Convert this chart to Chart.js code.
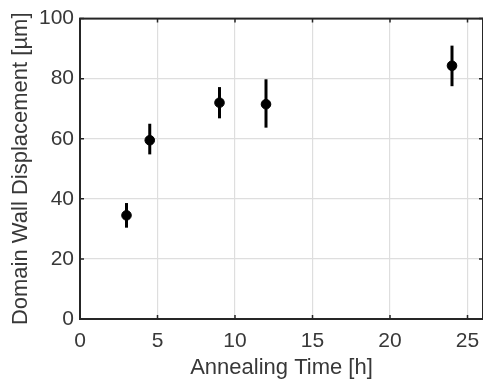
<!DOCTYPE html>
<html>
<head>
<meta charset="utf-8">
<script src="https://cdn.jsdelivr.net/npm/chart.js@4.4.0/dist/chart.umd.min.js"></script>
<style>
  html, body { margin: 0; padding: 0; background: #fff; }
  #wrap { width: 483px; height: 386px; }
</style>
</head>
<body>
<div id="wrap"><canvas id="chart" width="483" height="386"></canvas></div>
<script>
// Annealing time (h) and measured displacement (µm)
const annealHours = [3, 4.5, 9, 12, 24];
const displacement = [34.5, 59.5, 72, 71.5, 84.3];
const errLow = [30.4, 54.8, 66.8, 63.7, 77.5];
const errHigh = [38.6, 65, 77.2, 79.8, 91];
const xTicks = [0, 5, 10, 15, 20, 25];
const yTicks = [0, 20, 40, 60, 80, 100];

const axisColor = '#262626';
const textColor = '#383838';
const fontFamily = '"Liberation Sans", Arial, sans-serif';

// error bars, box, inward ticks and the x tick labels
const matlabLook = {
    id: 'matlabLook',
    afterDatasetsDraw(chart) {
        const ctx = chart.ctx;
        const xs = chart.scales.x;
        const ys = chart.scales.y;
        const area = chart.chartArea;

        ctx.save();
        ctx.strokeStyle = '#000';
        ctx.lineWidth = 3;
        ctx.lineCap = 'butt';
        for (let i = 0; i < annealHours.length; i++) {
            const px = xs.getPixelForValue(annealHours[i]);
            ctx.beginPath();
            ctx.moveTo(px, ys.getPixelForValue(errLow[i]));
            ctx.lineTo(px, ys.getPixelForValue(errHigh[i]));
            ctx.stroke();
        }

        // box
        ctx.strokeStyle = axisColor;
        ctx.lineWidth = 2;
        ctx.strokeRect(area.left, area.top, area.right - area.left, area.bottom - area.top);

        // inward ticks
        ctx.lineWidth = 1.5;
        xTicks.forEach(function(v) {
            const px = xs.getPixelForValue(v);
            ctx.beginPath();
            ctx.moveTo(px, area.bottom);
            ctx.lineTo(px, area.bottom - 4);
            ctx.moveTo(px, area.top);
            ctx.lineTo(px, area.top + 4);
            ctx.stroke();
        });
        yTicks.forEach(function(v) {
            const py = ys.getPixelForValue(v);
            ctx.beginPath();
            ctx.moveTo(area.left, py);
            ctx.lineTo(area.left + 4, py);
            ctx.moveTo(area.right, py);
            ctx.lineTo(area.right - 4, py);
            ctx.stroke();
        });

        // x tick labels
        ctx.fillStyle = textColor;
        ctx.font = '21px ' + fontFamily;
        ctx.textAlign = 'center';
        ctx.textBaseline = 'middle';
        xTicks.forEach(function(v) {
            ctx.fillText(String(v), xs.getPixelForValue(v), area.bottom + 22);
        });
        ctx.restore();
    }
};

const ctx = document.getElementById('chart');

new Chart(ctx, {
    type: 'scatter',
    data: {
        datasets: [{
            data: annealHours.map((h, i) => ({ x: h, y: displacement[i] })),
            backgroundColor: '#000',
            borderColor: '#000',
            pointRadius: 4.8,
            pointHoverRadius: 4.8
        }]
    },
    options: {
        responsive: false,
        animation: false,
        layout: {
            autoPadding: false,
            padding: { top: 15, right: 0, left: 0, bottom: 0 }
        },
        plugins: {
            legend: { display: false },
            tooltip: { enabled: false }
        },
        scales: {
            x: {
                type: 'linear',
                min: 0,
                max: 26,
                afterBuildTicks: function(axis) {
                    axis.ticks = xTicks.map(v => ({ value: v }));
                },
                afterFit: function(axis) {
                    axis.height = 67;
                },
                grid: { color: '#dedede', lineWidth: 1.2, drawTicks: false },
                border: { display: false },
                ticks: { display: false },
                title: {
                    display: true,
                    text: 'Annealing Time [h]',
                    color: textColor,
                    padding: { top: 0, bottom: 5 },
                    font: { family: fontFamily, size: 22 }
                }
            },
            y: {
                type: 'linear',
                min: 0,
                max: 100,
                afterBuildTicks: function(axis) {
                    axis.ticks = yTicks.map(v => ({ value: v }));
                },
                afterFit: function(axis) {
                    axis.width = 80;
                },
                grid: { color: '#dedede', lineWidth: 1.2, drawTicks: false },
                border: { display: false },
                ticks: {
                    color: textColor,
                    padding: 6,
                    font: { family: fontFamily, size: 21 }
                },
                title: {
                    display: true,
                    text: 'Domain Wall Displacement [µm]',
                    color: textColor,
                    padding: { top: 8, bottom: 0 },
                    font: { family: fontFamily, size: 22 }
                }
            }
        }
    },
    plugins: [matlabLook]
});
</script>
</body>
</html>
